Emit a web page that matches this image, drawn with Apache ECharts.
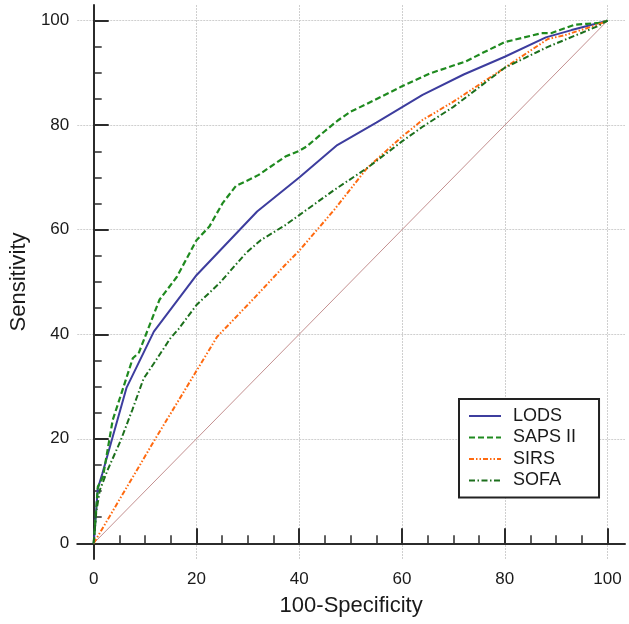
<!DOCTYPE html>
<html>
<head>
<meta charset="utf-8">
<title>ROC curves</title>
<script src="https://cdn.jsdelivr.net/npm/echarts@6/dist/echarts.min.js"></script>
<style>
  html, body { margin: 0; padding: 0; background: #fff; }
  #chart { width: 629px; height: 624px; }
</style>
</head>
<body>
<div id="chart"></div>
<script>
// [100-Specificity, Sensitivity] pairs
var lods = [[0, 0], [0.8, 10.5], [1.7, 13.4], [6.4, 29.8], [11.7, 40.5], [20, 51.3], [31.8, 63.5],
  [40, 70], [47.4, 76.2], [55, 80.5], [64, 85.8], [72, 89.7], [80, 93.1], [88, 96.8],
  [93, 98.2], [100, 100]]
var saps = [[0, 0], [0.8, 10.8], [1.8, 12.7], [3.7, 23.6], [5.3, 28.4], [7.6, 35.4], [8.8, 36.5],
  [10.5, 40.8], [12.8, 46.6], [16.2, 51], [20, 58], [22.5, 60.6], [25.1, 65.1], [27.7, 68.4],
  [30.5, 69.7], [32.1, 70.5], [37.3, 74], [40, 75.1], [41.4, 75.9], [44.9, 78.8], [47.5, 80.9],
  [50, 82.6], [53, 84], [59.9, 87.4], [65.4, 89.9], [72.4, 92.2], [75.6, 93.8], [80, 95.9], [87.1, 97.6],
  [89, 97.6], [93.5, 99.2], [96, 99.4], [98.6, 99.6], [100, 100]]
var sirs = [[0, 0], [12, 20], [20, 33], [24, 39.5], [31.5, 47.2], [37.3, 53.3], [40, 56], [46.8, 63.8],
  [53.2, 71.8], [60, 77.8], [64, 81], [70, 84.5], [80, 91], [88.4, 96.5], [91.6, 97.2], [98, 99.2], [100, 100]]
var sofa = [[0, 0], [0.5, 6], [1.2, 10.2], [2.7, 14], [5.3, 19.8], [7.5, 25.5], [9.7, 31.5],
  [11.7, 34.4], [14.9, 39.2], [16.5, 41], [20, 45.6], [24.5, 49.8], [29.6, 55.5], [32.5, 58],
  [37.3, 60.9], [40, 62.8], [46.8, 67.6], [53.2, 71.8], [60, 76.9], [64, 79.7], [70, 83.5], [80, 91],
  [88.4, 95], [91.6, 96.3], [98, 98.9], [100, 100]]
var chance = [[0, 0], [100, 100]]

var seriesNames = ['LODS', 'SAPS II', 'SIRS', 'SOFA']
var majorTicks = [0, 20, 40, 60, 80, 100]
var minorTicks = [5, 10, 15, 25, 30, 35, 45, 50, 55, 65, 70, 75, 85, 90, 95]

var font = 'Liberation Sans, Arial, sans-serif'
var axisColor = '#2b2b2b'

function majorAxis(name, min, max, isY) {
  return {
    type: 'value',
    min: min,
    max: max,
    position: isY ? 'left' : 'bottom',
    name: name,
    nameLocation: 'middle',
    nameGap: isY ? 42 : 36,
    nameTextStyle: { fontFamily: font, fontSize: 22, color: '#1a1a1a' },
    axisLine: { show: true, lineStyle: { color: axisColor, width: 2 } },
    axisTick: {
      show: true, inside: true, length: 15, customValues: majorTicks,
      lineStyle: { color: axisColor, width: 2 }
    },
    axisLabel: {
      customValues: majorTicks, fontFamily: font, fontSize: 17, color: '#1a1a1a',
      margin: isY ? 8 : 12
    },
    splitLine: { show: true, lineStyle: { color: '#cfcfcf', width: 1, type: [2, 1] } }
  }
}

function minorAxis(min, max, isY) {
  return {
    type: 'value',
    min: min,
    max: max,
    position: isY ? 'left' : 'bottom',
    axisLine: { show: false },
    axisTick: {
      show: true, inside: true, length: 8, customValues: minorTicks,
      lineStyle: { color: axisColor, width: 1.5 }
    },
    axisLabel: { show: false },
    splitLine: { show: false }
  }
}

function curve(name, data, color, width, dash) {
  return {
    name: name,
    type: 'line',
    data: data,
    symbol: 'none',
    silent: true,
    lineStyle: { color: color, width: width, type: dash },
    itemStyle: { color: color },
    z: 3
  }
}

var chart = echarts.init(document.getElementById('chart'))
chart.setOption({
  animation: false,
  backgroundColor: '#fff',
  grid: { left: 69, right: 4, top: 5, bottom: 65 },
  xAxis: [majorAxis('100-Specificity', -3.2, 103.4, false), minorAxis(-3.2, 103.4, false)],
  yAxis: [majorAxis('Sensitivity', -3, 103, true), minorAxis(-3, 103, true)],
  legend: {
    data: seriesNames,
    orient: 'vertical',
    left: 459,
    top: 399,
    padding: [8, 23, 8, 9],
    itemWidth: 32,
    itemHeight: 14,
    itemGap: 3.5,
    borderColor: '#222',
    borderWidth: 2,
    backgroundColor: '#fff',
    selectedMode: false,
    // hide the dot that line series put in the middle of the legend sample
    itemStyle: { opacity: 0 },
    textStyle: { fontFamily: font, fontSize: 18, lineHeight: 18, color: '#1a1a1a', padding: [0, 0, 0, 7] }
  },
  series: [
    {
      name: 'chance',
      type: 'line',
      data: chance,
      symbol: 'none',
      silent: true,
      lineStyle: { color: '#c49090', width: 1 },
      z: 2
    },
    curve('LODS', lods, '#3d3d9e', 2, 'solid'),
    curve('SAPS II', saps, '#1f8a1f', 2.2, [6, 3]),
    curve('SIRS', sirs, '#ff6a10', 2, [5, 2, 1.5, 2, 1.5, 2]),
    curve('SOFA', sofa, '#1c6f1c', 2, [6, 2.5, 1.5, 2.5])
  ]
})
</script>
</body>
</html>
